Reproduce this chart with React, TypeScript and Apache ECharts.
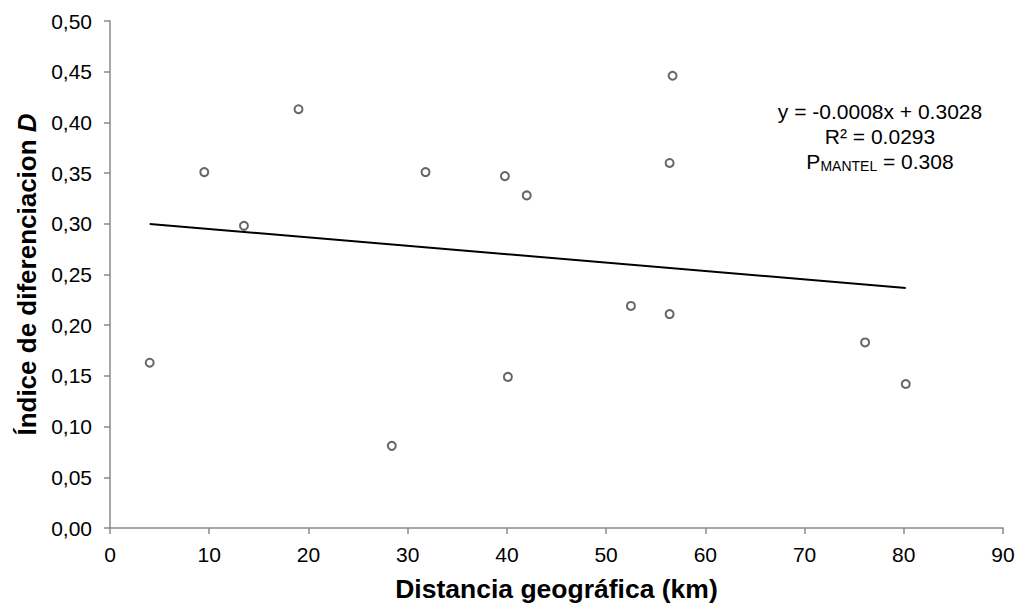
import React, { useEffect, useRef } from "react";
import * as echarts from "echarts";

const distanceKm = [4.0, 9.5, 13.5, 19.0, 28.4, 31.8, 39.8, 42.0, 40.1, 52.5, 56.4, 56.4, 56.7, 76.1, 80.2];
const indexD = [0.163, 0.351, 0.298, 0.413, 0.081, 0.351, 0.347, 0.328, 0.149, 0.219, 0.211, 0.360, 0.446, 0.183, 0.142];
const trendX = [4.0, 80.2];
const trendY = [0.2998, 0.2368];
const equationLines = ["y = -0.0008x + 0.3028", "R² = 0.0293"];
const mantelText = "{m|P}{sub|MANTEL}{m| = 0.308}";

const FONT = "'Liberation Sans', Arial, Helvetica, sans-serif";

export default function App() {
  const ref = useRef<HTMLDivElement>(null);
  useEffect(() => {
    if (!ref.current) return;
    const chart = echarts.init(ref.current, undefined, { renderer: "svg" });
    const points = distanceKm.map((x, i) => [x, indexD[i]]);
    const trend = trendX.map((x, i) => [x, trendY[i]]);
    chart.setOption({
      animation: false,
      backgroundColor: "#ffffff",
      textStyle: { fontFamily: FONT },
      grid: { left: 110, right: 19, top: 21, bottom: 80, containLabel: false },
      xAxis: {
        type: "value",
        min: 0,
        max: 90,
        interval: 10,
        name: "Distancia geográfica (km)",
        nameLocation: "middle",
        nameGap: 47,
        nameTextStyle: { fontFamily: FONT, fontSize: 26.5, fontWeight: "bold", color: "#000" },
        axisLine: { show: true, lineStyle: { color: "#8a8a8a", width: 1.5 } },
        axisTick: { show: true, inside: false, length: 6, lineStyle: { color: "#8a8a8a", width: 1.5 } },
        axisLabel: { fontFamily: FONT, fontSize: 21, color: "#000", margin: 16 },
        splitLine: { show: false },
      },
      yAxis: {
        type: "value",
        min: 0,
        max: 0.5,
        interval: 0.05,
        name: "{a|Índice de diferenciacion }{b|D}",
        nameLocation: "middle",
        nameRotate: 90,
        nameGap: 69,
        nameTextStyle: {
          color: "#000",
          rich: {
            a: { fontFamily: FONT, fontSize: 26, fontWeight: "bold", color: "#000" },
            b: { fontFamily: FONT, fontSize: 26, fontWeight: "bold", fontStyle: "italic", color: "#000" },
          },
        },
        axisLine: { show: true, lineStyle: { color: "#8a8a8a", width: 1.5 } },
        axisTick: { show: true, inside: false, length: 6, lineStyle: { color: "#8a8a8a", width: 1.5 } },
        axisLabel: {
          fontFamily: FONT,
          fontSize: 21,
          color: "#000",
          margin: 18,
          formatter: (v: number) => v.toFixed(2).replace(".", ","),
        },
        splitLine: { show: false },
      },
      series: [
        {
          type: "line",
          data: trend,
          showSymbol: false,
          symbol: "none",
          lineStyle: { color: "#000", width: 2 },
          silent: true,
          z: 2,
        },
        {
          type: "scatter",
          data: points,
          symbol: "circle",
          symbolSize: 8,
          itemStyle: { color: "#ffffff", borderColor: "#404040", borderWidth: 2 },
          z: 3,
        },
      ],
      graphic: [
        {
          type: "text",
          x: 880,
          y: 111,
          style: { text: equationLines[0], font: `21px ${FONT}`, fill: "#000", textAlign: "center", textVerticalAlign: "middle" },
        },
        {
          type: "text",
          x: 880,
          y: 136,
          style: { text: equationLines[1], font: `21px ${FONT}`, fill: "#000", textAlign: "center", textVerticalAlign: "middle" },
        },
        {
          type: "text",
          x: 880,
          y: 161,
          style: {
            text: mantelText,
            fill: "#000",
            font: `21px ${FONT}`,
            textAlign: "center",
            textVerticalAlign: "middle",
            rich: {
              m: { fontFamily: FONT, fontSize: 21, fill: "#000" },
              sub: { fontFamily: FONT, fontSize: 14, padding: [10, 0, 0, 0], fill: "#000" },
            },
          },
        },
      ],
    });
    return () => chart.dispose();
  }, []);
  return <div ref={ref} style={{ width: 1022, height: 608, position: "absolute", left: 0, top: 0 }} />;
}
